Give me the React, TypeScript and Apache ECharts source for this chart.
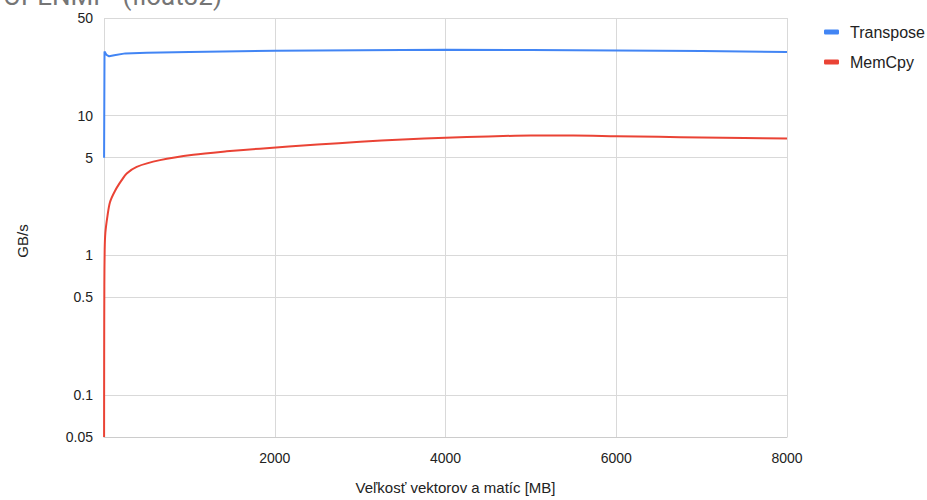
import React, { useEffect, useRef } from "react";
import * as echarts from "echarts";

const titleText = "OPENMP  (float32)";
const xAxisName = "Veľkosť vektorov a matíc [MB]";
const yAxisName = "GB/s";
const yTicks = [0.05, 0.1, 0.5, 1, 5, 10, 50];

const transposeData: [number, number][] = [
  [1, 5], [6, 28.8], [30, 27.2], [60, 26.6], [120, 27.1], [250, 27.9], [500, 28.2],
  [1000, 28.6], [2000, 29.1], [3000, 29.4], [4000, 29.6], [5000, 29.5],
  [6000, 29.3], [7000, 29.0], [8000, 28.5],
];

const memcpyData: [number, number][] = [
  [1, 0.05], [2, 0.2], [4, 0.6], [8, 1.1], [16, 1.45], [40, 1.9], [70, 2.4],
  [130, 2.9], [207, 3.45], [266, 3.85], [383, 4.3], [656, 4.8], [1046, 5.25],
  [1437, 5.55], [1827, 5.8], [2500, 6.2], [3000, 6.5], [3500, 6.75], [4000, 6.95],
  [4500, 7.1], [5000, 7.2], [5500, 7.2], [6000, 7.12], [6500, 7.05], [7000, 6.98],
  [7500, 6.92], [8000, 6.85],
];

export default function App() {
  const ref = useRef<HTMLDivElement>(null);
  useEffect(() => {
    if (!ref.current) return;
    const chart = echarts.init(ref.current, null, { renderer: "svg" });
    const labelFont = { fontFamily: "Arial, 'Liberation Sans', sans-serif", fontSize: 14, color: "#222222" };
    chart.setOption({
      animation: false,
      backgroundColor: "#ffffff",
      grid: { left: 104, right: 140, top: 18, bottom: 62, containLabel: false },
      graphic: [
        {
          type: "text",
          left: 3,
          top: -17,
          style: {
            text: titleText,
            font: "26px Roboto, Arial, sans-serif",
            fill: "#757575",
          },
        },
        {
          type: "text",
          x: 22,
          y: 241,
          rotation: Math.PI / 2,
          style: {
            text: yAxisName,
            font: "15px Arial, 'Liberation Sans', sans-serif",
            fill: "#222222",
            align: "center",
            verticalAlign: "middle",
          },
        },
      ],
      legend: {
        orient: "vertical",
        left: 819,
        top: 19,
        itemWidth: 15,
        itemHeight: 5,
        itemGap: 14,
        icon: "roundRect",
        textStyle: { ...labelFont, fontSize: 16, padding: [0, 0, 0, 6] },
        data: ["Transpose", "MemCpy"],
      },
      xAxis: {
        type: "value",
        min: 0,
        max: 8000,
        interval: 2000,
        name: xAxisName,
        nameLocation: "middle",
        nameGap: 43,
        nameTextStyle: { ...labelFont, fontSize: 15, padding: [0, 0, 0, 20] },
        axisLine: { show: true, lineStyle: { color: "#cccccc" } },
        axisTick: { show: false },
        axisLabel: {
          ...labelFont,
          margin: 14,
          formatter: (v: number) => (v === 0 ? "" : String(v)),
        },
        splitLine: { show: true, lineStyle: { color: "#d9d9d9" } },
      },
      yAxis: {
        type: "log",
        logBase: 10,
        min: 0.05,
        max: 50,
        axisLine: { show: false },
        axisTick: { show: false, customValues: yTicks },
        axisLabel: {
          ...labelFont,
          margin: 11,
          customValues: yTicks,
          formatter: (v: number) => String(+Number(v).toPrecision(3)),
        },
        splitLine: { show: true, lineStyle: { color: "#d9d9d9" } },
      },
      series: [
        {
          name: "Transpose",
          type: "line",
          data: transposeData,
          showSymbol: false,
          symbol: "none",
          color: "#4285F4",
          lineStyle: { width: 2, color: "#4285F4" },
        },
        {
          name: "MemCpy",
          type: "line",
          data: memcpyData,
          showSymbol: false,
          symbol: "none",
          smooth: 0.3,
          color: "#EA4335",
          lineStyle: { width: 2, color: "#EA4335" },
        },
      ],
    });
    return () => chart.dispose();
  }, []);
  return <div ref={ref} style={{ width: 927, height: 500, position: "absolute", left: 0, top: 0 }} />;
}
